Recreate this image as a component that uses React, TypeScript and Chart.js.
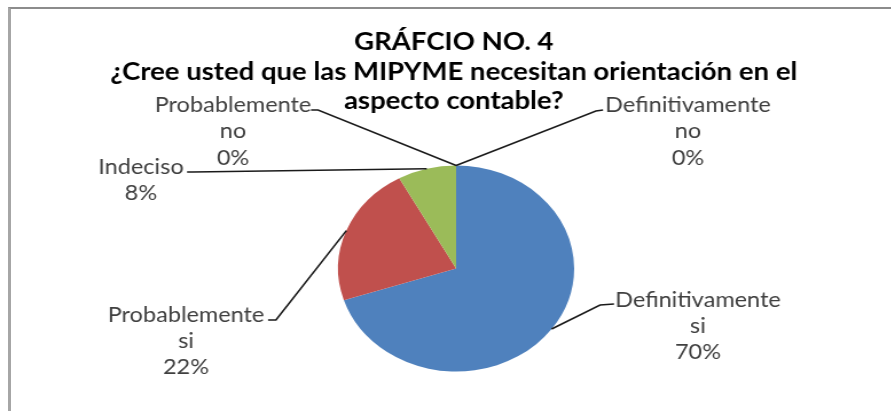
import React, { useEffect, useRef } from 'react';
import { Chart, registerables } from 'chart.js';

Chart.register(...registerables);

// ---- data ----
const titleLines = [
  'GRÁFCIO NO. 4',
  '¿Cree usted que las MIPYME necesitan orientación en el',
  'aspecto contable?',
];
const categories = [
  'Definitivamente si',
  'Probablemente si',
  'Indeciso',
  'Probablemente no',
  'Definitivamente no',
];
const categoryLabelLines = [
  ['Definitivamente', 'si'],
  ['Probablemente', 'si'],
  ['Indeciso'],
  ['Probablemente', 'no'],
  ['Definitivamente', 'no'],
];
const values = [70, 22, 8, 0, 0];
const sliceColors = ['#4F81BD', '#C0504D', '#9BBB59', '#8064A2', '#4BACC6'];

// ---- layout (canvas units, canvas is stretched horizontally by STRETCH) ----
const STRETCH = 1.146;
const CANVAS_W = 778;
const CANVAS_H = 411;
const TITLE_X = 396;
const TITLE_Y = [42, 72, 101];
const labelLayout = [
  { cx: 609, y: 300, lh: 26, lead: [[535.8, 304], [523.6, 305]] },
  { cx: 162.3, y: 315, lh: 26, lead: [[233.9, 320], [240.8, 320]] },
  { cx: 123, y: 167, lh: 26, lead: [[163.2, 172], [168, 172]] },
  { cx: 203.3, y: 105, lh: 26.5, lead: [[271.4, 110], [277.5, 110]] },
  { cx: 600.3, y: 105, lh: 26.5, lead: [[526.2, 110], [520, 111]] },
];

const overlayPlugin = {
  id: 'overlay',
  afterDraw(chart: any) {
    const ctx = chart.ctx as CanvasRenderingContext2D;
    const meta = chart.getDatasetMeta(0);
    const total = values.reduce((a, b) => a + b, 0);
    ctx.save();
    ctx.textAlign = 'center';
    ctx.textBaseline = 'middle';
    ctx.fillStyle = '#000000';
    ctx.font = 'bold 24px Lato';
    titleLines.forEach((t, i) => ctx.fillText(t, TITLE_X, TITLE_Y[i]));

    ctx.strokeStyle = '#1a1a1a';
    ctx.lineWidth = 1.6;
    ctx.font = '20.5px Lato';
    ctx.fillStyle = '#404040';
    meta.data.forEach((arc: any, i: number) => {
      const p = arc.getProps(['x', 'y', 'startAngle', 'endAngle', 'outerRadius'], true);
      const mid = (p.startAngle + p.endAngle) / 2;
      const px = p.x + Math.cos(mid) * p.outerRadius;
      const py = p.y + Math.sin(mid) * p.outerRadius;
      const L = labelLayout[i];
      ctx.beginPath();
      ctx.moveTo(L.lead[0][0], L.lead[0][1]);
      ctx.lineTo(L.lead[1][0], L.lead[1][1]);
      ctx.lineTo(px, py);
      ctx.stroke();
      const lines = [...categoryLabelLines[i], Math.round((values[i] / total) * 100) + '%'];
      lines.forEach((s, k) => ctx.fillText(s, L.cx, L.y + k * L.lh));
    });
    ctx.restore();
  },
};

export default function App() {
  const ref = useRef<HTMLCanvasElement | null>(null);
  useEffect(() => {
    if (!ref.current) return;
    const chart = new Chart(ref.current, {
      type: 'pie',
      data: {
        labels: categories,
        datasets: [
          {
            data: values,
            backgroundColor: sliceColors,
            borderWidth: 0,
          },
        ],
      },
      options: {
        responsive: false,
        animation: false,
        layout: { padding: { left: 295, right: 277, top: 165, bottom: 39 } },
        plugins: {
          legend: { display: false },
          title: { display: false },
          tooltip: { enabled: false },
        },
      },
      plugins: [overlayPlugin],
    });
    return () => chart.destroy();
  }, []);

  return (
    <div
      style={{
        position: 'fixed',
        left: 0,
        top: 0,
        width: 891,
        height: 411,
        overflow: 'hidden',
        background: '#ffffff',
      }}
    >
      <div
        style={{
          position: 'absolute',
          left: 8,
          top: 7,
          width: 1000,
          height: 1000,
          borderTop: '2px solid #8c8c8c',
          borderLeft: '3px solid #a6a6a6',
        }}
      />
      <canvas
        ref={ref}
        width={CANVAS_W}
        height={CANVAS_H}
        style={{
          position: 'absolute',
          left: 0,
          top: 0,
          width: CANVAS_W,
          height: CANVAS_H,
          transform: `scaleX(${STRETCH})`,
          transformOrigin: '0 0',
        }}
      />
    </div>
  );
}
